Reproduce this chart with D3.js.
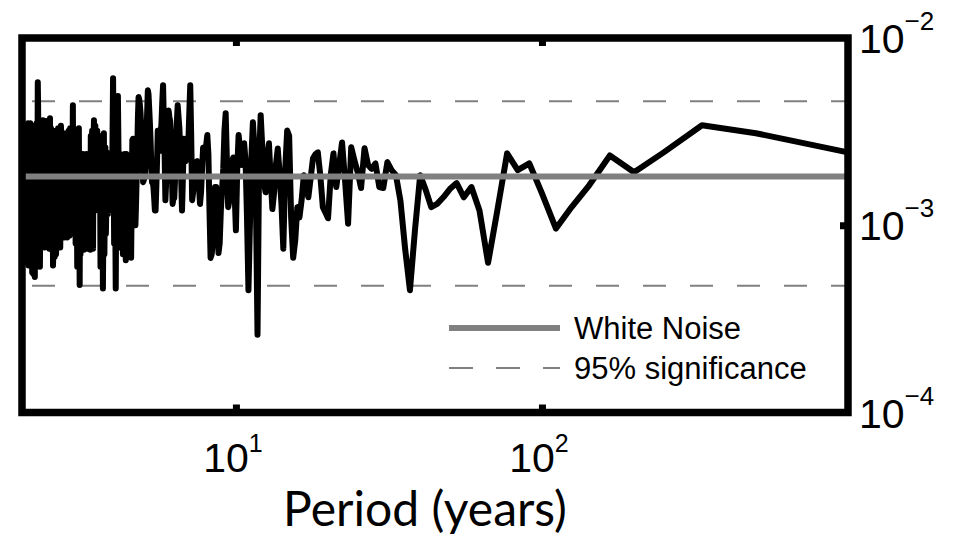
<!DOCTYPE html>
<html>
<head>
<meta charset="utf-8">
<script src="https://cdn.jsdelivr.net/npm/d3@7"></script>
<style>
  html, body { margin: 0; padding: 0; background: #fff; }
  svg { display: block; }
  .tick-label { font-family: "Liberation Sans", Arial, Helvetica, sans-serif; fill: #000; }
  .legend-label { font-family: "Liberation Sans", Arial, Helvetica, sans-serif; fill: #000; }
  .axis-title { font-family: Lato, "Open Sans", sans-serif; fill: #000; }
</style>
</head>
<body>
<svg id="chart" width="955" height="541"></svg>
<script>
// Power spectrum of a 1000-year annual record, harmonics k = 1 … 500
// (period = 1000 / k years). Power values are in units of 10^-3.
const recordLength = 1000;
const powerE3 = [
  2.45, 3.10, 3.42, 2.45, 1.92, 2.36, 1.64, 1.25, 0.96, 1.48,
  2.14, 1.97, 2.42, 1.19, 0.63, 1.20, 1.60, 1.41, 1.68, 1.56,
  1.41, 1.30, 1.25, 1.55, 1.85, 0.94, 0.45, 0.75, 1.35, 1.85,
  1.97, 2.17, 1.58, 1.60, 2.14, 2.00, 2.10, 2.58, 1.58, 1.92,
  2.22, 2.61, 1.02, 1.74, 2.77, 2.09, 1.60, 2.42, 1.85, 1.09,
  1.17, 1.25, 1.85, 2.45, 2.39, 2.28, 1.78, 1.41, 1.64, 1.85,
  1.36, 1.10, 1.25, 0.83, 0.67, 1.10, 3.00, 3.20, 2.00, 0.75,
  1.30, 1.90, 2.57, 2.10, 1.50, 1.22, 1.80, 2.74, 2.30, 1.50,
  1.70, 2.60, 3.87, 2.20, 0.26, 1.30, 2.60, 3.55, 2.30, 1.00,
  0.45, 1.10, 2.20, 2.74, 2.50, 2.10, 2.60, 3.03, 2.00, 0.94,
  1.50, 2.30, 2.20, 1.60, 1.36, 1.25, 2.20, 3.96, 3.20, 2.00,
  1.54, 1.20, 0.80, 0.71, 1.20, 1.60, 1.60, 1.10, 0.80, 0.70,
  0.67, 1.20, 2.40, 3.03, 2.70, 2.30, 2.50, 2.60, 2.00, 1.50,
  1.30, 1.60, 2.00, 2.20, 2.00, 2.15, 1.80, 1.50, 1.36, 3.00,
  5.60, 4.00, 2.80, 2.30, 2.60, 2.20, 2.50, 2.90, 1.80, 1.20,
  1.80, 2.50, 3.30, 3.80, 4.37, 3.50, 2.60, 1.80, 1.40, 1.40,
  1.30, 2.00, 2.90, 3.60, 3.80, 4.10, 3.30, 2.40, 1.70, 1.36,
  2.40, 3.60, 5.60, 4.60, 3.60, 3.00, 2.50, 2.70, 2.90, 3.20,
  2.20, 1.60, 1.20, 1.20, 1.40, 1.60, 1.70, 1.70, 2.10, 2.80,
  3.50, 4.20, 5.00, 5.26, 4.00, 3.00, 2.20, 1.90, 1.80, 1.74,
  1.70, 2.20, 2.80, 3.40, 4.00, 4.40, 4.70, 4.83, 3.80, 2.60,
  1.80, 1.30, 1.00, 1.40, 2.00, 2.60, 2.90, 2.85, 1.40, 0.67,
  1.00, 1.90, 0.90, 1.50, 2.20, 0.75, 1.40, 2.40, 0.65, 1.20,
  2.40, 0.90, 1.80, 0.70, 2.30, 1.10, 0.80, 2.00, 2.40, 0.76,
  1.30, 2.60, 4.90, 1.80, 0.90, 1.50, 0.46, 1.20, 2.00, 0.80,
  2.80, 6.10, 3.00, 1.30, 2.00, 1.20, 2.40, 1.60, 1.20, 2.30,
  1.70, 1.15, 2.00, 2.45, 1.30, 0.90, 2.60, 1.40, 0.70, 3.10,
  1.00, 0.46, 1.80, 0.80, 2.90, 1.60, 0.60, 2.50, 3.00, 1.50,
  2.20, 1.20, 2.80, 3.20, 1.30, 2.00, 1.25, 3.40, 2.40, 1.20,
  3.64, 2.60, 0.75, 1.60, 3.20, 0.80, 1.90, 3.00, 0.74, 1.50,
  2.40, 1.00, 0.80, 2.20, 1.30, 0.75, 1.90, 2.40, 1.10, 0.80,
  1.70, 2.30, 0.90, 0.74, 2.00, 2.40, 1.20, 0.80, 1.80, 2.30,
  1.00, 0.70, 1.50, 0.48, 1.20, 3.30, 2.00, 0.90, 2.80, 0.60,
  1.50, 3.20, 1.10, 0.80, 2.60, 1.30, 0.90, 2.40, 3.30, 1.50,
  4.37, 2.20, 0.90, 3.00, 1.20, 0.95, 2.60, 3.30, 1.40, 0.88,
  2.20, 3.20, 1.00, 1.70, 3.00, 0.86, 1.60, 3.10, 1.20, 0.90,
  2.50, 3.00, 1.30, 0.86, 2.00, 3.10, 1.50, 0.90, 2.60, 1.10,
  0.87, 2.90, 3.40, 1.20, 0.76, 2.40, 3.20, 1.00, 1.80, 0.80,
  3.30, 2.00, 0.78, 1.40, 3.10, 1.00, 0.70, 2.60, 3.20, 1.10,
  0.68, 2.00, 3.00, 1.30, 0.70, 0.61, 2.40, 3.10, 1.00, 0.74,
  2.00, 3.30, 1.10, 1.80, 3.73, 0.90, 0.75, 2.80, 3.40, 1.20,
  0.80, 2.40, 3.50, 1.40, 0.77, 2.00, 3.60, 1.10, 0.80, 2.90,
  1.60, 0.76, 3.30, 2.20, 0.90, 1.40, 3.64, 1.00, 0.78, 2.60,
  3.30, 1.20, 0.80, 2.20, 3.20, 0.90, 0.60, 2.50, 3.40, 1.10,
  0.65, 2.80, 4.40, 5.80, 2.00, 0.62, 1.50, 3.50, 1.00, 0.60,
  2.00, 3.40, 1.30, 0.53, 0.90, 2.80, 3.30, 1.00, 0.55, 1.80,
  3.40, 1.50, 0.56, 0.80, 3.00, 3.30, 1.00, 0.62, 2.20, 3.50,
  1.20, 0.65, 2.60, 3.30, 0.90, 0.61, 2.00, 3.50, 1.40, 0.63,
  1.10, 3.20, 2.50, 0.70, 0.71, 2.40, 2.90, 1.00, 0.72, 2.00,
  2.80, 1.20, 0.71, 1.80, 2.90, 1.10, 0.75, 2.50, 2.80, 1.30
];

// Reference levels
const whiteNoiseLevel = 1.82e-3;
const significanceLevels = [4.6e-3, 4.75e-4];

// Axis ticks and labels
const xTickValues = [10, 100];
const xTickExponents = ["1", "2"];
const yTickValues = [1e-2, 1e-3, 1e-4];
const yTickExponents = ["\u22122", "\u22123", "\u22124"];

const legendLabels = ["White Noise", "95% significance"];
const xAxisTitle = "Period (years)";

const spectrum = powerE3.map((p, i) => ({
  period: recordLength / (i + 1),
  power: p * 1e-3
}));

const svg = d3.select("#chart");
const plotLeft = 22, plotRight = 848, plotTop = 38, plotBottom = 412.5;

const x = d3.scaleLog().domain([2, 1000]).range([plotLeft, plotRight]);
const y = d3.scaleLog().domain([1e-4, 1e-2]).range([plotBottom, plotTop]);

svg.append("rect").attr("width", 955).attr("height", 541).attr("fill", "#fff");

// 95% significance lines (dashed)
svg.append("g").selectAll("line")
  .data(significanceLevels)
  .join("line")
  .attr("x1", plotLeft).attr("x2", plotRight)
  .attr("y1", d => y(d)).attr("y2", d => y(d))
  .attr("stroke", "#808080")
  .attr("stroke-width", 2)
  .attr("stroke-dasharray", "23,24")
  .attr("stroke-dashoffset", 37);

// spectrum
const line = d3.line()
  .x(d => x(d.period))
  .y(d => y(d.power));

svg.append("path")
  .datum(spectrum)
  .attr("d", line)
  .attr("fill", "none")
  .attr("stroke", "#000")
  .attr("stroke-width", 6)
  .attr("stroke-linejoin", "round")
  .attr("stroke-linecap", "round");

// white-noise level
svg.append("line")
  .attr("x1", plotLeft).attr("x2", plotRight)
  .attr("y1", y(whiteNoiseLevel)).attr("y2", y(whiteNoiseLevel))
  .attr("stroke", "#808080")
  .attr("stroke-width", 6);

// frame
svg.append("rect")
  .attr("x", plotLeft).attr("y", plotTop)
  .attr("width", plotRight - plotLeft).attr("height", plotBottom - plotTop)
  .attr("fill", "none")
  .attr("stroke", "#000")
  .attr("stroke-width", 7.5);

// ticks (inward) on top and bottom, one on the right
const tickLen = 8;
const axisB = d3.axisBottom(x).tickValues(xTickValues).tickSize(-tickLen).tickFormat("");
const axisT = d3.axisTop(x).tickValues(xTickValues).tickSize(-tickLen).tickFormat("");
const axisR = d3.axisRight(y).tickValues([1e-3]).tickSize(-tickLen).tickFormat("");

function styleAxis(g) {
  g.select(".domain").remove();
  g.selectAll(".tick line").attr("stroke", "#000").attr("stroke-width", 7);
}
svg.append("g").attr("transform", `translate(0,${plotBottom})`).call(axisB).call(styleAxis);
svg.append("g").attr("transform", `translate(0,${plotTop})`).call(axisT).call(styleAxis);
svg.append("g").attr("transform", `translate(${plotRight},0)`).call(axisR).call(styleAxis);

// x tick labels (10^n)
const xl = svg.append("g").selectAll("text")
  .data(xTickValues)
  .join("text")
  .attr("class", "tick-label")
  .attr("x", d => x(d) - 3)
  .attr("y", 472)
  .attr("text-anchor", "middle")
  .attr("font-size", 41);
xl.append("tspan").text("10");
xl.append("tspan").attr("font-size", 25).attr("dy", -20).text((d, i) => xTickExponents[i]);

// y tick labels on the right
const yl = svg.append("g").selectAll("text")
  .data(yTickValues)
  .join("text")
  .attr("class", "tick-label")
  .attr("x", 859)
  .attr("y", d => y(d) + 15)
  .attr("font-size", 41);
yl.append("tspan").text("10");
yl.append("tspan").attr("font-size", 26).attr("dy", -23).text((d, i) => yTickExponents[i]);

// legend
const legend = svg.append("g");
legend.append("line")
  .attr("x1", 449).attr("x2", 560).attr("y1", 328).attr("y2", 328)
  .attr("stroke", "#808080").attr("stroke-width", 6);
legend.append("line")
  .attr("x1", 449).attr("x2", 560).attr("y1", 368).attr("y2", 368)
  .attr("stroke", "#808080").attr("stroke-width", 2)
  .attr("stroke-dasharray", "24,23");
legend.selectAll("text")
  .data(legendLabels)
  .join("text")
  .attr("class", "legend-label")
  .attr("x", 574)
  .attr("y", (d, i) => 339 + i * 40)
  .attr("font-size", 31)
  .text(d => d);

// x-axis title
svg.append("text")
  .attr("class", "axis-title")
  .attr("x", 425)
  .attr("y", 526)
  .attr("text-anchor", "middle")
  .attr("font-size", 48)
  .text(xAxisTitle);
</script>
</body>
</html>
